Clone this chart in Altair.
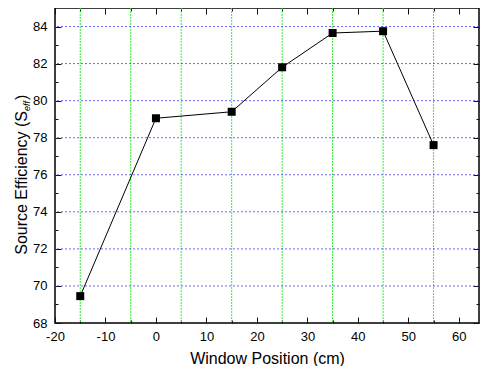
import altair as alt
import pandas as pd

# ---- data ----
positions = [-15, 0, 15, 25, 35, 45, 55]
efficiency = [69.45, 79.05, 79.4, 81.8, 83.65, 83.75, 77.6]

x_major = [-20, -10, 0, 10, 20, 30, 40, 50, 60]
x_minor = [-15, -5, 5, 15, 25, 35, 45, 55]
y_major = [68, 70, 72, 74, 76, 78, 80, 82, 84]
y_minor = [69, 71, 73, 75, 77, 79, 81, 83]
x_grid = [-15, -5, 5, 15, 25, 35, 45, 55]
y_grid = [70, 72, 74, 76, 78, 80, 82, 84]
x_domain = [-20, 64]
y_domain = [68, 85]

x_title = "Window Position (cm)"
y_title_main = "Source Efficiency (S"
y_title_sub = "eff"
y_title_end = ")"

FONT = "Liberation Sans"

data = pd.DataFrame({"x": positions, "y": efficiency})
xs = alt.Scale(domain=x_domain, nice=False, zero=False)
ys = alt.Scale(domain=y_domain, nice=False, zero=False)


def tick_axis(orient, values, size):
    return alt.Axis(orient=orient, values=values, tickSize=size, offset=-size,
                    labels=False, domain=False, grid=False, title=None,
                    tickColor="#111111", tickWidth=1)


x_label_axis = alt.Axis(orient="bottom", values=x_major, ticks=False, domain=False,
                        grid=False, labelFont=FONT, labelFontSize=13, labelColor="black",
                        labelExpr="datum.value", labelPadding=7, labelFlush=False,
                        labelOverlap=False,
                        title=x_title, titleFont=FONT, titleFontSize=16,
                        titleFontWeight="normal", titleColor="black", titlePadding=7)
y_label_axis = alt.Axis(orient="left", values=y_major, ticks=False, domain=False,
                        grid=False, labelFont=FONT, labelFontSize=13, labelColor="black",
                        labelExpr="datum.value", labelPadding=8, labelFlush=False,
                        labelOverlap=False, title=None)

vgrid = alt.Chart(pd.DataFrame({"g": x_grid})).mark_rule(
    color="#33ee33", strokeDash=[2, 1], strokeWidth=1
).encode(x=alt.X("g:Q", scale=xs, axis=x_label_axis))

hgrid = alt.Chart(pd.DataFrame({"g": y_grid})).mark_rule(
    color="#4444ff", strokeDash=[2, 2], strokeWidth=1, opacity=0.8
).encode(y=alt.Y("g:Q", scale=ys, axis=y_label_axis))

line = alt.Chart(data).mark_line(color="black", strokeWidth=1).encode(
    x=alt.X("x:Q", scale=xs, axis=tick_axis("bottom", x_major, 6)),
    y=alt.Y("y:Q", scale=ys, axis=tick_axis("left", y_major, 6)),
)

pts = alt.Chart(data).mark_square(size=64, color="black", opacity=1).encode(
    x=alt.X("x:Q", scale=xs, axis=tick_axis("bottom", x_minor, 3)),
    y=alt.Y("y:Q", scale=ys, axis=tick_axis("left", y_minor, 3)),
)

top_major = alt.Chart(data).mark_point(opacity=0).encode(
    x=alt.X("x:Q", scale=xs, axis=tick_axis("top", x_major, 6)),
    y=alt.Y("y:Q", scale=ys, axis=tick_axis("right", y_major, 6)),
)

top_minor = alt.Chart(data).mark_point(opacity=0).encode(
    x=alt.X("x:Q", scale=xs, axis=tick_axis("top", x_minor, 3)),
    y=alt.Y("y:Q", scale=ys, axis=tick_axis("right", y_minor, 3)),
)

one = pd.DataFrame({"k": [0]})
t_main = alt.Chart(one).mark_text(
    text=y_title_main, angle=270, align="right", baseline="alphabetic",
    font=FONT, fontSize=16, color="black"
).encode(x=alt.value(-28.5), y=alt.value(103))
t_sub = alt.Chart(one).mark_text(
    text=y_title_sub, angle=270, align="left", baseline="alphabetic",
    font=FONT, fontSize=9, fontStyle="italic", color="black"
).encode(x=alt.value(-25), y=alt.value(103))
t_end = alt.Chart(one).mark_text(
    text=y_title_end, angle=270, align="left", baseline="alphabetic",
    font=FONT, fontSize=16, color="black"
).encode(x=alt.value(-28.5), y=alt.value(92))

chart = alt.layer(
    vgrid, hgrid, line, pts, top_major, top_minor, t_main, t_sub, t_end
).resolve_axis(x="independent", y="independent").properties(
    width=424, height=315,
    padding={"left": 47, "top": 0, "right": 1, "bottom": 43},
    autosize=alt.AutoSizeParams(type="none"),
).configure_view(stroke="black", strokeWidth=1.5)

chart.save("out.html", embed_options={"renderer": "svg", "actions": False})
